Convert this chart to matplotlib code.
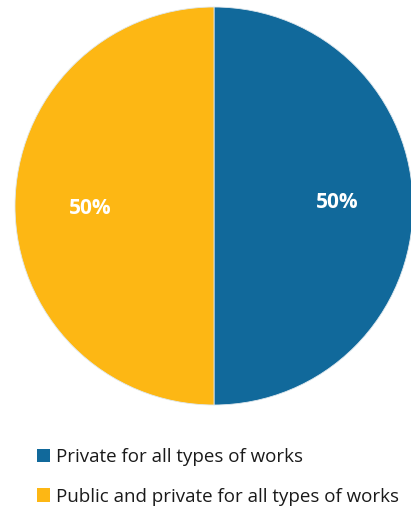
import matplotlib
matplotlib.use("Agg")
import matplotlib.pyplot as plt
from matplotlib.patches import Patch

plt.rcParams['font.family'] = ['Open Sans', 'DejaVu Sans']

categories = ["Private for all types of works",
              "Public and private for all types of works"]
shares = [50, 50]
colors = ["#11699B", "#FDB714"]

W, H = 411, 508
fig = plt.figure(figsize=(W / 100, H / 100), dpi=100)

# pie axes: centre (214, 206) px from top-left, radius 199 px
cx, cy, r = 214, 206, 199
ax = fig.add_axes([(cx - r) / W, (H - cy - r) / H, 2 * r / W, 2 * r / H])
wedges, texts, autotexts = ax.pie(
    shares, colors=colors, startangle=90, counterclock=False,
    autopct="%d%%", pctdistance=0.62,
    wedgeprops=dict(edgecolor="#dfe8ee", linewidth=0.6),
    textprops=dict(color="white", fontsize=15, fontweight="bold"))
# small vertical nudges of the percentage labels
for t, dy in zip(autotexts, (0.02, -0.015)):
    x, y = t.get_position()
    t.set_position((x, y + dy))
ax.set_xlim(-1, 1)
ax.set_ylim(-1, 1)
ax.set_aspect("equal")
ax.axis("off")

fs = 13.5
fpx = fs * 100 / 72
handles = [Patch(facecolor=c, edgecolor="none") for c in colors]
leg = fig.legend(handles, categories, loc="upper left",
                 bbox_to_anchor=(37 / W, 1 - 448 / H),
                 frameon=False, fontsize=fs,
                 handlelength=13 / fpx, handleheight=13 / fpx,
                 handletextpad=6.5 / fpx, labelspacing=1.15,
                 borderpad=0, borderaxespad=0)
for t in leg.get_texts():
    t.set_color("#1a1a1a")

fig.savefig("out.png", dpi=100)
